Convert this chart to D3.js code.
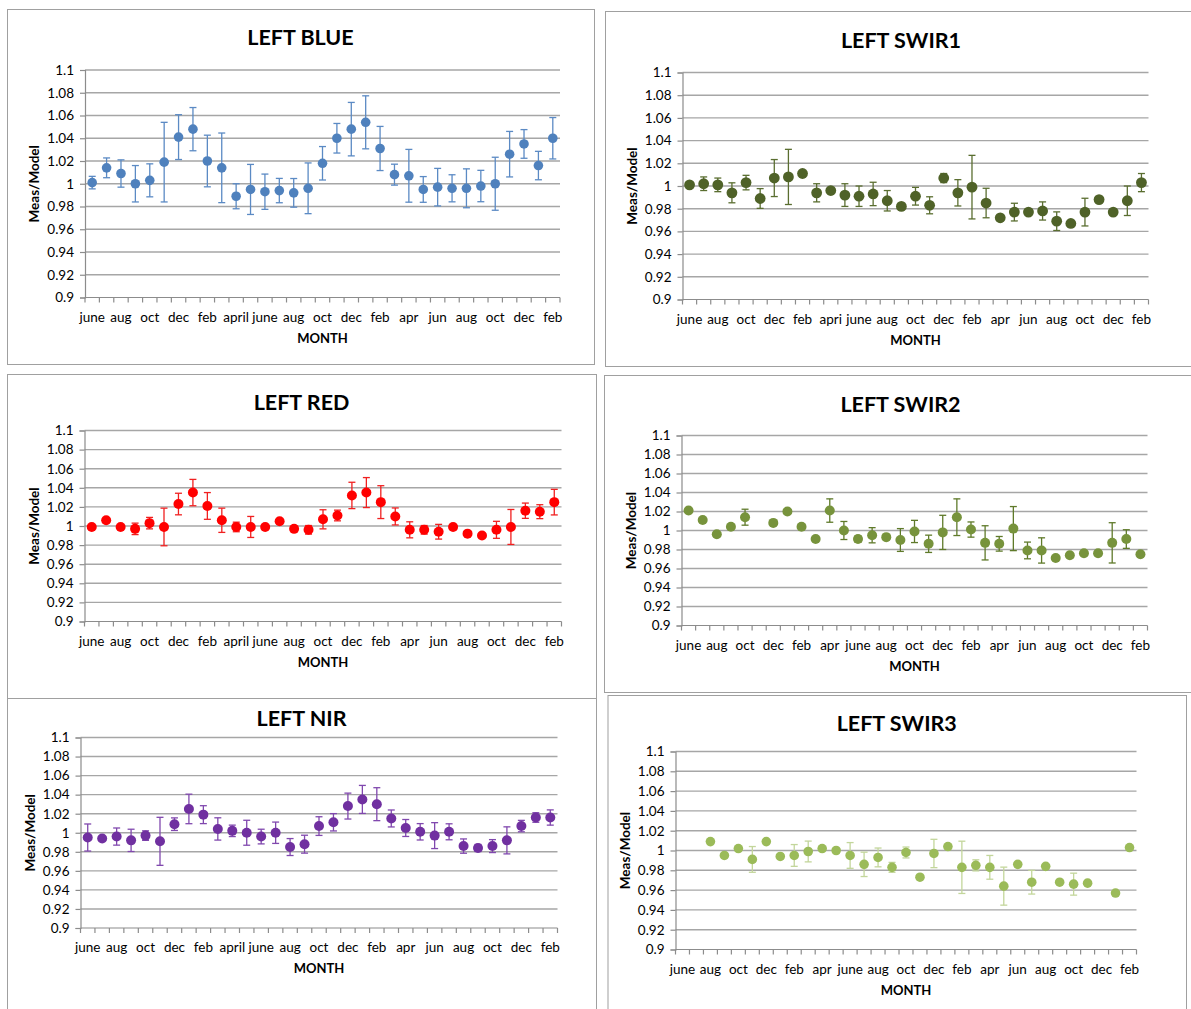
<!DOCTYPE html>
<html>
<head>
<meta charset="utf-8">
<script src="https://cdn.jsdelivr.net/npm/d3@7"></script>
<style>
  html, body { margin: 0; padding: 0; background: #ffffff; }
  svg { display: block; }
  text { font-family: Lato, "Open Sans", "Liberation Sans", sans-serif; fill: #000; }
</style>
</head>
<body>
<svg id="chart" width="1191" height="1009"></svg>
<script>
// Month categories (one per monthly campaign); only every other one gets a label
const monthsApril = ["june","july","aug","sep","oct","nov","dec","jan","feb","mar","april","may","june","july","aug","sep","oct","nov","dec","jan","feb","mar","apr","may","jun","jul","aug","sep","oct","nov","dec","jan","feb"];
const monthsApri  = ["june","july","aug","sep","oct","nov","dec","jan","feb","mar","apri","may","june","july","aug","sep","oct","nov","dec","jan","feb","mar","apr","may","jun","jul","aug","sep","oct","nov","dec","jan","feb"];
const monthsApr   = ["june","july","aug","sep","oct","nov","dec","jan","feb","mar","apr","may","june","july","aug","sep","oct","nov","dec","jan","feb","mar","apr","may","jun","jul","aug","sep","oct","nov","dec","jan","feb"];

// Y axis ticks (Meas/Model ratio)
const yTickValues = [0.9, 0.92, 0.94, 0.96, 0.98, 1.0, 1.02, 1.04, 1.06, 1.08, 1.1];
const yTickLabels = ["0.9","0.92","0.94","0.96","0.98","1","1.02","1.04","1.06","1.08","1.1"];

// Band ratios and their uncertainties (null = no campaign that month)
const blueValues = [1.001,1.014,1.009,1.000,1.003,1.019,1.041,1.048,1.020,1.014,0.989,0.995,0.993,0.994,0.992,0.996,1.018,1.040,1.048,1.054,1.031,1.008,1.007,0.995,0.997,0.996,0.996,0.998,1.000,1.026,1.035,1.016,1.040];
const blueErrors = [0.0055,0.0087,0.012,0.016,0.0145,0.035,0.0197,0.019,0.0227,0.0306,0.011,0.022,0.0155,0.0107,0.0126,0.0223,0.0147,0.013,0.0235,0.0233,0.0194,0.0092,0.0232,0.0113,0.0165,0.0119,0.0171,0.0138,0.0233,0.020,0.0126,0.0125,0.0182];

const swir1Values = [1.001,1.002,1.001,0.994,1.003,0.989,1.007,1.008,1.011,0.994,0.996,0.992,0.991,0.993,0.987,0.982,0.991,0.983,1.007,0.994,0.999,0.985,0.972,0.977,0.977,0.978,0.969,0.967,0.977,0.988,0.977,0.987,1.003];
const swir1Errors = [0,0.006,0.006,0.0088,0.0064,0.0087,0.0163,0.0243,0,0.008,0,0.010,0.009,0.0103,0.009,0,0.0078,0.0075,0.004,0.0116,0.028,0.013,0,0.0078,0,0.008,0.0082,0,0.0122,0,0,0.013,0.008];

const redValues = [0.999,1.006,0.999,0.997,1.003,0.999,1.023,1.035,1.021,1.006,0.999,0.999,0.999,1.005,0.997,0.996,1.007,1.011,1.032,1.035,1.025,1.010,0.996,0.996,0.994,0.999,0.992,0.990,0.996,0.999,1.016,1.015,1.025];
const redErrors = [0,0,0,0.006,0.006,0.0197,0.0113,0.0138,0.014,0.0127,0.005,0.011,0,0,0,0.0045,0.010,0.0056,0.0138,0.0157,0.0172,0.0089,0.0084,0.0045,0.0077,0,0,0,0.0089,0.0183,0.008,0.0073,0.0134];

const swir2Values = [1.021,1.011,0.996,1.004,1.014,null,1.008,1.020,1.004,0.991,1.021,1.000,0.991,0.995,0.993,0.990,0.999,0.986,0.998,1.014,1.001,0.987,0.986,1.002,0.979,0.979,0.971,0.974,0.976,0.976,0.987,0.991,0.975];
const swir2Errors = [0,0,0,0,0.0084,null,0,0.003,0,0,0.0123,0.0095,0.0033,0.008,0,0.012,0.0117,0.0091,0.018,0.0193,0.008,0.018,0.0077,0.0232,0.0088,0.0133,0,0,0,0,0.0212,0.0098,0];

const nirValues = [0.995,0.994,0.996,0.992,0.997,0.991,1.009,1.025,1.019,1.004,1.002,1.000,0.996,1.000,0.985,0.988,1.007,1.011,1.028,1.035,1.030,1.015,1.005,1.001,0.997,1.001,0.986,0.984,0.986,0.992,1.007,1.016,1.016];
const nirErrors = [0.0142,0,0.009,0.0117,0.005,0.0252,0.0066,0.0155,0.0094,0.0117,0.006,0.0131,0.0077,0.0112,0.0089,0.0094,0.0098,0.0091,0.0136,0.0147,0.0173,0.0089,0.0089,0.0086,0.0136,0.0084,0.0075,0.0037,0.0068,0.0142,0.006,0.005,0.008];

const swir3Values = [null,null,1.009,0.995,1.002,0.991,1.009,0.994,0.995,0.999,1.002,1.000,0.995,0.986,0.993,0.983,0.998,0.973,0.997,1.004,0.983,0.985,0.983,0.964,0.986,0.968,0.984,0.968,0.966,0.967,null,0.957,1.003];
const swir3Errors = [null,null,0,0,0,0.013,0,0,0.011,0.0105,0,0,0.013,0.0123,0.0095,0.005,0.0055,0,0.0143,0,0.0264,0.0056,0.012,0.0192,0,0.012,0,0,0.0111,0,null,0,0];

// One chart per band: frame, plot rectangle and styling
const panels = [
  { title: "LEFT BLUE",  months: monthsApril, values: blueValues,  errors: blueErrors,
    color: "#4F81BD", errColor: "#5b8ac4", r: 4.8,
    frame: [7, 9, 594, 364], plot: [85, 70, 560, 297.5], titleY: 37 },
  { title: "LEFT SWIR1", months: monthsApri,  values: swir1Values, errors: swir1Errors,
    color: "#4F6228", errColor: "#5a6e30", r: 5.4,
    frame: [605, 11, 1196, 366], plot: [682.5, 72.5, 1148.5, 299.5], titleY: 40 },
  { title: "LEFT RED",   months: monthsApril, values: redValues,   errors: redErrors,
    color: "#FF0000", errColor: "#f02020", r: 5.0,
    frame: [7, 374, 596, 698], plot: [84.5, 430.5, 561.5, 621.5], titleY: 402 },
  { title: "LEFT SWIR2", months: monthsApr,   values: swir2Values, errors: swir2Errors,
    color: "#77933C", errColor: "#5f7a2a", r: 5.0,
    frame: [604, 375, 1196, 692], plot: [681.5, 435.5, 1147.5, 625.5], titleY: 404 },
  { title: "LEFT NIR",   months: monthsApril, values: nirValues,   errors: nirErrors,
    color: "#7030A0", errColor: "#8048ae", r: 5.0,
    frame: [7, 698, 596, 1015], plot: [80.5, 737.5, 557.5, 928], titleY: 718 },
  { title: "LEFT SWIR3", months: monthsApr,   values: swir3Values, errors: swir3Errors,
    color: "#9BBB59", errColor: "#c3d69b", r: 4.8,
    frame: [607.5, 695, 1186, 1015], plot: [675.5, 751.5, 1136.5, 949.5], titleY: 723 }
];

const svg = d3.select("#chart");
const gridColor = "#a6a6a6";
const axisColor = "#8c8c8c";

panels.forEach(p => {
  const g = svg.append("g");
  const [fx0, fy0, fx1, fy1] = p.frame;
  const [px0, py0, px1, py1] = p.plot;

  // chart frame
  g.append("rect")
    .attr("x", fx0 + 0.5).attr("y", fy0 + 0.5)
    .attr("width", fx1 - fx0).attr("height", fy1 - fy0)
    .attr("fill", "#fff").attr("stroke", "#a0a0a0").attr("stroke-width", 1);

  const x = d3.scaleBand().domain(d3.range(p.months.length)).range([px0, px1]).padding(0);
  const y = d3.scaleLinear().domain([0.9, 1.1]).range([py1, py0]);

  // horizontal gridlines
  g.append("g").selectAll("line").data(yTickValues.filter(v => v > 0.9)).join("line")
    .attr("x1", px0).attr("x2", px1)
    .attr("y1", d => y(d)).attr("y2", d => y(d))
    .attr("stroke", gridColor).attr("stroke-width", 1.4);

  // y axis
  const yAxis = d3.axisLeft(y).tickValues(yTickValues)
    .tickFormat((d, i) => yTickLabels[i]).tickSize(5).tickPadding(6);
  const ya = g.append("g").attr("transform", `translate(${px0},0)`).call(yAxis);
  ya.select(".domain").attr("stroke", axisColor).attr("stroke-width", 1.2);
  ya.selectAll(".tick line").attr("stroke", axisColor).attr("stroke-width", 1.2);
  ya.selectAll("text").attr("font-size", 13.5).attr("fill", "#000")
    .style("font-family", "Lato, 'Open Sans', sans-serif");

  // x axis: ticks on category boundaries, labels on every other category
  g.append("line").attr("x1", px0).attr("x2", px1).attr("y1", py1).attr("y2", py1)
    .attr("stroke", axisColor).attr("stroke-width", 1.2);
  const bounds = d3.range(p.months.length + 1).map(i => i < p.months.length ? x(i) : px1);
  g.append("g").selectAll("line").data(bounds).join("line")
    .attr("x1", d => d).attr("x2", d => d).attr("y1", py1).attr("y2", py1 + 5)
    .attr("stroke", axisColor).attr("stroke-width", 1.2);
  g.append("g").selectAll("text").data(p.months.map((m, i) => ({ m, i })).filter(d => d.i % 2 === 0)).join("text")
    .attr("x", d => x(d.i) + x.bandwidth() / 2)
    .attr("y", py1 + 24)
    .attr("text-anchor", "middle")
    .attr("font-size", 13.5)
    .text(d => d.m);

  // axis titles
  g.append("text")
    .attr("x", (px0 + px1) / 2).attr("y", py1 + 45)
    .attr("text-anchor", "middle").attr("font-size", 13).attr("font-weight", "bold")
    .text("MONTH");
  g.append("text")
    .attr("transform", `translate(${px0 - 46},${(py0 + py1) / 2}) rotate(-90)`)
    .attr("text-anchor", "middle").attr("font-size", 13.5).attr("font-weight", "bold")
    .text("Meas/Model");

  // chart title
  g.append("text")
    .attr("x", (fx0 + Math.min(fx1, 1191) + (fx1 > 1191 ? 6 : 0)) / 2).attr("y", p.titleY)
    .attr("dy", "0.35em")
    .attr("text-anchor", "middle").attr("font-size", 21.5).attr("font-weight", "bold")
    .text(p.title);

  const pts = p.values.map((v, i) => ({ v, e: p.errors[i], i })).filter(d => d.v !== null);
  const cx = d => x(d.i) + x.bandwidth() / 2;

  // error bars with caps
  const eb = g.append("g").selectAll("g").data(pts.filter(d => d.e > 0)).join("g")
    .attr("stroke", p.errColor).attr("stroke-width", 1.3);
  eb.append("line").attr("x1", cx).attr("x2", cx)
    .attr("y1", d => y(d.v + d.e)).attr("y2", d => y(d.v - d.e));
  eb.append("line").attr("x1", d => cx(d) - 3.5).attr("x2", d => cx(d) + 3.5)
    .attr("y1", d => y(d.v + d.e)).attr("y2", d => y(d.v + d.e));
  eb.append("line").attr("x1", d => cx(d) - 3.5).attr("x2", d => cx(d) + 3.5)
    .attr("y1", d => y(d.v - d.e)).attr("y2", d => y(d.v - d.e));

  // markers
  g.append("g").selectAll("circle").data(pts).join("circle")
    .attr("cx", cx).attr("cy", d => y(d.v)).attr("r", p.r)
    .attr("fill", p.color);
});
</script>
</body>
</html>
